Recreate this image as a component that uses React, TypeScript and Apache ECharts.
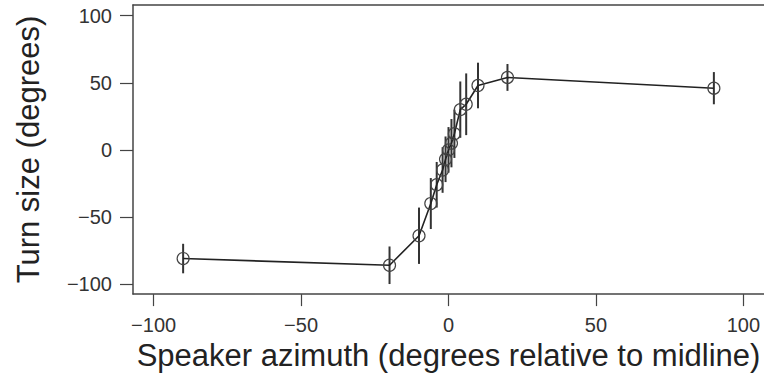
import React, { useEffect, useRef } from "react";
import * as echarts from "echarts";

const azimuth = [-90, -20, -10, -6, -4, -2, -1, 0, 1, 2, 4, 6, 10, 20, 90];
const turnSize = [-81, -86, -64, -40, -26, -15, -7, 0, 5, 12, 30, 34, 48, 54, 46];
const errorHalf = [11, 14, 21, 19, 17, 17, 17, 17, 18, 18, 21, 23, 17, 10, 12];
const tickValues = [-100, -50, 0, 50, 100];

export default function App() {
  const ref = useRef<HTMLDivElement>(null);
  useEffect(() => {
    if (!ref.current) return;
    const chart = echarts.init(ref.current, null, { renderer: "svg" });
    const pts = azimuth.map((x, i) => [x, turnSize[i]]);
    const errs = azimuth.map((x, i) => [x, turnSize[i] - errorHalf[i], turnSize[i] + errorHalf[i]]);
    const font = "Liberation Sans, Arial, Helvetica, sans-serif";
    const axisColor = "#444";
    chart.setOption({
      animation: false,
      backgroundColor: "#fff",
      grid: { left: 133, top: 5, right: 0, bottom: 80 },
      xAxis: [
        {
          type: "value",
          min: -107,
          max: 107,
          name: "Speaker azimuth (degrees relative to midline)",
          nameLocation: "middle",
          nameGap: 39,
          nameTextStyle: { fontFamily: font, fontSize: 31, color: "#222" },
          axisLine: { show: true, onZero: false, lineStyle: { color: axisColor, width: 1.5 } },
          axisTick: { show: true, length: 12, customValues: tickValues, lineStyle: { color: axisColor, width: 1.2 } },
          axisLabel: {
            customValues: tickValues,
            margin: 21,
            fontFamily: font,
            fontSize: 20,
            color: "#333",
            formatter: (v: number) => (v < 0 ? "\u2212" + Math.abs(v) : String(v)),
          },
          splitLine: { show: false },
        },
        {
          type: "value",
          position: "top",
          min: -107,
          max: 107,
          axisLine: { show: true, onZero: false, lineStyle: { color: axisColor, width: 1.5 } },
          axisTick: { show: false },
          axisLabel: { show: false },
          splitLine: { show: false },
        },
      ],
      yAxis: {
        type: "value",
        min: -107.5,
        max: 108,
        name: "Turn size (degrees)",
        nameLocation: "middle",
        nameGap: 89,
        nameTextStyle: { fontFamily: font, fontSize: 31, color: "#222" },
        axisLine: { show: true, onZero: false, lineStyle: { color: axisColor, width: 1.5 } },
        axisTick: { show: true, length: 13, customValues: tickValues, lineStyle: { color: axisColor, width: 1.2 } },
        axisLabel: {
          customValues: tickValues,
          margin: 21,
          fontFamily: font,
          fontSize: 20,
          color: "#333",
          formatter: (v: number) => (v < 0 ? "\u2212" + Math.abs(v) : String(v)),
        },
        splitLine: { show: false },
      },
      series: [
        {
          type: "custom",
          xAxisIndex: 0,
          data: errs,
          renderItem: (params: any, api: any) => {
            const x = api.value(0);
            const lo = api.coord([x, api.value(1)]);
            const hi = api.coord([x, api.value(2)]);
            return {
              type: "line",
              shape: { x1: lo[0], y1: lo[1], x2: hi[0], y2: hi[1] },
              style: { stroke: "#333", lineWidth: 2 },
            };
          },
          z: 2,
        },
        {
          type: "line",
          xAxisIndex: 0,
          data: pts,
          symbol: "circle",
          symbolSize: 12,
          lineStyle: { color: "#222", width: 1.6 },
          itemStyle: { color: "rgba(255,255,255,0)", borderColor: "#444", borderWidth: 1.2 },
          z: 3,
        },
      ],
    });
    return () => chart.dispose();
  }, []);
  return <div ref={ref} style={{ position: "fixed", left: 0, top: 0, width: 764, height: 376 }} />;
}
